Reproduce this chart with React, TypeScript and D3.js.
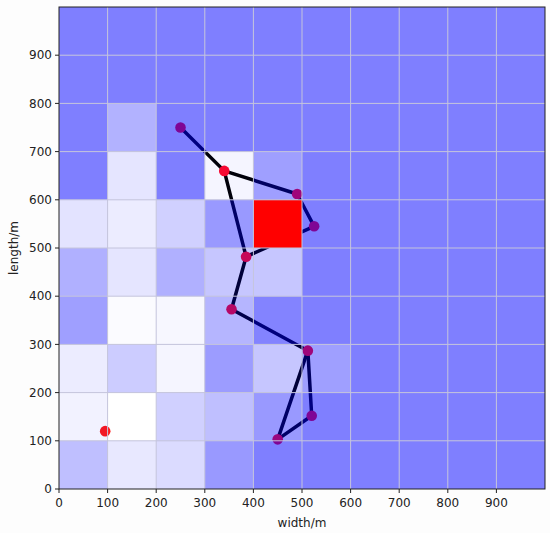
import React from "react";
import * as d3 from "d3";

const xTicks = [0, 100, 200, 300, 400, 500, 600, 700, 800, 900];
const yTicks = [0, 100, 200, 300, 400, 500, 600, 700, 800, 900];
// whiteness per cell, rows listed from bottom (0-100) to top (900-1000), columns 0-100 ... 900-1000
const cellRows = [
  [0.5, 0.82, 0.72, 0.2, 0, 0, 0, 0, 0, 0],
  [0.9, 1.0, 0.63, 0.5, 0.2, 0, 0, 0, 0, 0],
  [0.85, 0.6, 0.92, 0.22, 0.55, 0.25, 0, 0, 0, 0],
  [0.25, 0.97, 0.94, 0.42, 0.03, 0, 0, 0, 0, 0],
  [0.38, 0.8, 0.38, 0.55, 0.55, 0, 0, 0, 0, 0],
  [0.78, 0.85, 0.63, 0.2, 1.0, 0, 0, 0, 0, 0],
  [0, 0.8, 0, 0.92, 0.25, 0, 0, 0, 0, 0],
  [0, 0.4, 0, 0, 0, 0, 0, 0, 0, 0],
  [0, 0, 0, 0, 0, 0, 0, 0, 0, 0],
  [0, 0, 0, 0, 0, 0, 0, 0, 0, 0],
];
const redCell = { x: 400, y: 500 };
const nodeX = [250, 340, 490, 525, 385, 355, 512, 520, 450];
const nodeY = [750, 660, 612, 545, 482, 373, 287, 152, 103];
const edges = [[0, 1], [1, 2], [2, 3], [3, 4], [1, 4], [4, 5], [5, 6], [6, 7], [7, 8], [8, 6]];
const lonePoint = { x: 95, y: 120 };

export default function App() {
  const W = 550, H = 533;
  const m = { left: 59, right: 5, top: 7, bottom: 44 };
  const x = d3.scaleLinear().domain([0, 1000]).range([m.left, W - m.right]);
  const y = d3.scaleLinear().domain([0, 1000]).range([H - m.bottom, m.top]);
  const font = "DejaVu Sans, sans-serif";
  const cells: any[] = [];
  cellRows.forEach((row, ri) =>
    row.forEach((w, ci) => {
      cells.push({ x0: ci * 100, y0: ri * 100, w });
    })
  );
  const gridVals = d3.range(100, 1000, 100);
  return (
    <div style={{ position: "fixed", left: 0, top: 0 }}>
      <svg width={W} height={H} style={{ display: "block", background: "#fff" }}>
        <rect x={0} y={0} width={W} height={H} fill="#fdfdfd" />
        <rect x={x(0)} y={y(1000)} width={x(1000) - x(0)} height={y(0) - y(1000)} fill="#fff" />
        {edges.map(([a, b], i) => (
          <line key={"e" + i} x1={x(nodeX[a])} y1={y(nodeY[a])} x2={x(nodeX[b])} y2={y(nodeY[b])}
            stroke="#000" strokeWidth={3.5} strokeLinecap="round" />
        ))}
        <rect x={x(redCell.x)} y={y(redCell.y + 100)} width={x(redCell.x + 100) - x(redCell.x)}
          height={y(redCell.y) - y(redCell.y + 100)} fill="#ff0000" />
        {nodeX.map((v, i) => (
          <circle key={"n" + i} cx={x(v)} cy={y(nodeY[i])} r={5.3} fill="#ff0a2a" />
        ))}
        <circle cx={x(lonePoint.x)} cy={y(lonePoint.y)} r={5.3} fill="#ff1a1a" />
        {cells.map((c, i) => (
          <rect key={"c" + i} x={x(c.x0)} y={y(c.y0 + 100)} width={x(c.x0 + 100) - x(c.x0)}
            height={y(c.y0) - y(c.y0 + 100)} fill="#0000ff" fillOpacity={0.5 * (1 - c.w)} />
        ))}
        {gridVals.map((v) => (
          <g key={"g" + v}>
            <line x1={x(v)} x2={x(v)} y1={y(0)} y2={y(1000)} stroke="#c4c4dc" strokeWidth={1} />
            <line x1={x(0)} x2={x(1000)} y1={y(v)} y2={y(v)} stroke="#c4c4dc" strokeWidth={1} />
          </g>
        ))}
        <rect x={x(0)} y={y(1000)} width={x(1000) - x(0)} height={y(0) - y(1000)} fill="none" stroke="#222" strokeWidth={1} />
        {xTicks.map((t) => (
          <g key={"xt" + t} transform={`translate(${x(t)},${y(0)})`}>
            <line y2={4} stroke="#222" />
            <text y={18} textAnchor="middle" fontFamily={font} fontSize={12} fill="#222">{t}</text>
          </g>
        ))}
        {yTicks.map((t) => (
          <g key={"yt" + t} transform={`translate(${x(0)},${y(t)})`}>
            <line x2={-4} stroke="#222" />
            <text x={-7} dy="0.35em" textAnchor="end" fontFamily={font} fontSize={12} fill="#222">{t}</text>
          </g>
        ))}
        <text x={(x(0) + x(1000)) / 2} y={527} textAnchor="middle" fontFamily={font} fontSize={12} fill="#222">width/m</text>
        <text transform={`translate(18,${(y(0) + y(1000)) / 2}) rotate(-90)`} textAnchor="middle" fontFamily={font} fontSize={12} fill="#222">length/m</text>
      </svg>
    </div>
  );
}
